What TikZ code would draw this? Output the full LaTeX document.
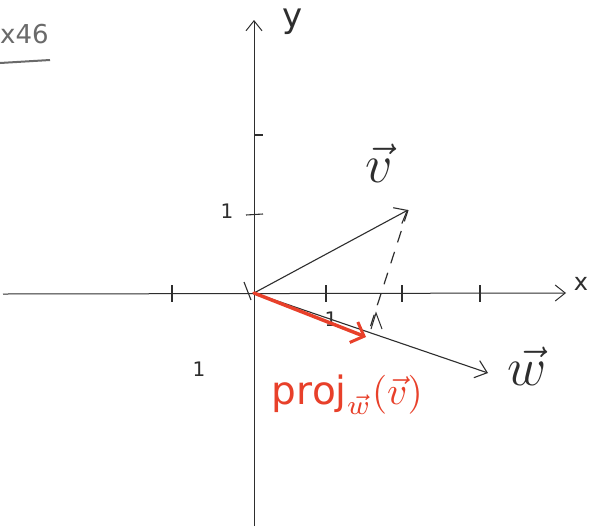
\documentclass[tikz,border=0pt]{standalone}
\usepackage{graphicx}
\usepackage{fontspec}
\setmainfont{DejaVu Sans}
\usetikzlibrary{arrows.meta}
\definecolor{pencil}{HTML}{2E2E2E}
\definecolor{faint}{HTML}{6A6A6A}
\definecolor{redpen}{HTML}{E8402A}
\tikzset{
  axis/.style={draw=pencil, line width=1pt, -{Straight Barb[length=10pt,width=16pt]}},
  vec/.style={draw=pencil, line width=1.1pt, -{Straight Barb[length=11pt,width=18pt]}},
  tickmark/.style={draw=pencil, line width=1.1pt},
  lbl/.style={text=pencil, font=\fontsize{20}{20}\selectfont, inner sep=1pt},
  vlbl/.style={text=pencil, font=\fontsize{20}{20}\selectfont, inner sep=1pt},
  projvec/.style={draw=redpen, line width=3.5pt, line cap=round, -{Straight Barb[length=11pt,width=22pt,line width=3pt]}},
}
\begin{document}
\begin{tikzpicture}[x=1pt,y=-1pt]
\useasboundingbox (0,0) rectangle (593,528);
\fill[white] (0,0) rectangle (593,528);
% coordinates
\coordinate (O) at (254,293);
\coordinate (xs) at (3,294);
\coordinate (xe) at (566,293);
\coordinate (ys) at (254,526);
\coordinate (ye) at (254,20);
\coordinate (vt) at (408,210);
\coordinate (wt) at (488,373);
\coordinate (ft) at (368,334);
\coordinate (pt) at (366,337);
% axes
\draw[axis] (xs) -- (xe);
\draw[axis] (ys) -- (ye);
\node[lbl, font=\fontsize{24}{24}\selectfont] (xl) at (581,284) {x};
\node[lbl, font=\fontsize{34}{34}\selectfont] (yl) at (293,22) {y};
% ticks
\foreach \n/\xx in {t1/172, t2/326, t3/402, t4/480} {
  \draw[tickmark] (\xx,285) -- (\xx,302);
}
\draw[tickmark] (246,215) -- (263,214);
\draw[tickmark] (255,135) -- (263,135);
\draw[tickmark] (244,282) -- (251,300);
\node[lbl] (one1) at (227,211) {1};
\node[lbl] (one2) at (331,319) {1};
\node[lbl] (one3) at (199,369) {1};
% vectors
\draw[vec] (O) -- (vt);
\draw[vec] (O) -- (wt);
\draw[draw=pencil, line width=1.2pt, dash pattern=on 12pt off 10pt] (vt) -- (ft);
\draw[draw=pencil, line width=1pt] (371,329) -- (376,313) -- (382,329);
\node[vlbl] (vl) at (379,163) {\scalebox{2.6}{$\vec{v}$}};
\node[vlbl] (wl) at (527,366) {\scalebox{2.6}{$\vec{w}$}};
% projection
\draw[projvec] (O) -- (pt);
\node[text=redpen, inner sep=0pt] (pl) at (347,395) {\scalebox{3.9}{$\mathrm{proj}_{\vec{w}}(\vec{v})$}};
% header
\node[text=faint, font=\fontsize{26}{26}\selectfont, anchor=west, inner sep=0pt] (hd) at (0,34) {x46};
\draw[faint, line width=2pt] (0,63) -- (50,60);
\end{tikzpicture}
\end{document}
